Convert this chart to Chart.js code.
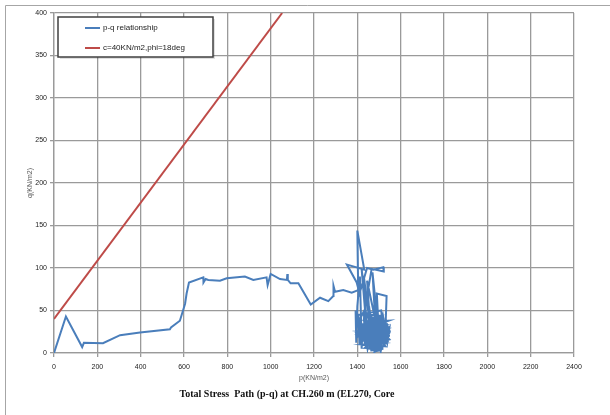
<!DOCTYPE html>
<html><head><meta charset="utf-8">
<script src="https://cdn.jsdelivr.net/npm/chart.js@4/dist/chart.umd.min.js"></script>
<style>html,body{margin:0;padding:0;background:#fff}#wrap{width:610px;height:415px;position:relative}</style>
</head><body><div id="wrap"><canvas id="c" width="610" height="415"></canvas></div>
<script>
const chartTitle = "Total Stress  Path (p-q) at CH.260 m (EL270, Core";
const xTitle = "p(KN/m2)";
const yTitle = "q(KN/m2)";
const seriesNames = ["p-q relationship", "c=40KN/m2,phi=18deg"];
const pathP = [0,55,130,138,226,305,397,535,540,581,605,612,623,689,690,700,712,766,797,881,920,981,986,1000,1043,1075,1077,1079,1092,1128,1185,1228,1266,1289,1290,1297,1335,1374,1404,
 1400,1432,1352,1397,1410,1445,1475,1520,1522,1466,1440,1420,1446,1430,1460,1445,1482,1470,1500,1490,1535,1528,1510,
 1405,1410,1415,1420,1425,1440,1430,1450,1445,1460,1455,1470,1465,1480,1475,1490,1485,1500,1495,1510,1505,1520,1515,1530,1540,1545,1535,1550,1525,1540,1510,1495,1480,1470,1455,1440,1425,1410,1402,1420,1435,1450,1465,1485,1500,1515,1530,1520,1505,1490,1475,1460,1448,1432,1418,1408,1428,1442,1458,1472,1488,1502,1518,1532,1548,1538,1522,1508,1492,1478,1462,1447,1436,1420,1392,1395,1400,1412,1418,
 1410,1545,1412,1540,1415,1535,1420,1545,1425,1530,1430,1525,1440,1515,1420,1550,1418,1542,1435,1520,1460,1500,1445,1530,1425,1538,1415,1528,1432,1548,1440,1512,1422,1536,1452,1506,1470,1495,1482,1505,1462,1528,1438,1544,1416,1530,1444,1520,1468];
const pathQ = [0,43,7,12,11.5,21,24,28,30,38,58,70,83,89,83,87,86,85,88,90,86,89,80,93,87,86,93,86,82,82,57,65,61,67,79,72,74,71,74,
 144,98,104,83,70,100,98,101,96,99,60,98,18,90,30,85,40,95,20,70,67,15,50,
 45,10,40,5,35,8,42,12,38,4,30,6,44,10,36,3,40,8,32,12,42,15,30,18,28,22,35,25,10,15,5,25,2,28,15,35,18,30,20,25,12,30,16,28,15,25,10,35,20,45,18,40,22,28,14,38,48,25,48,22,50,28,44,24,30,12,28,2,20,8,25,5,22,12,50,12,55,90,30,
 20,22,26,30,32,18,15,14,10,8,38,36,42,40,22,20,28,26,6,5,3,4,34,33,24,27,18,12,9,16,45,44,30,24,12,10,7,6,2,3,14,16,36,38,26,28,20,19,11];
const envP = [0, 1053];
const envQ = [40, 400];
const xTicks = {min:0, max:2400, step:200};
const yTicks = {min:0, max:400, step:50};

const toPts = (xs, ys) => xs.map((x,i)=>({x:x, y:ys[i]}));

const framePlugin = {
  id:'frame',
  beforeDraw(chart){
    const ctx = chart.ctx;
    ctx.save();
    ctx.fillStyle='#fff'; ctx.fillRect(0,0,chart.width,chart.height);
    ctx.strokeStyle='#a6a6a6'; ctx.lineWidth=1;
    ctx.beginPath(); ctx.moveTo(5.5,415); ctx.lineTo(5.5,5.5); ctx.lineTo(610,5.5); ctx.stroke();
    ctx.restore();
  }
};
const legendPlugin = {
  id:'boxLegend',
  afterDraw(chart){
    const ctx = chart.ctx;
    const a = chart.chartArea;
    const x0 = a.left+4, y0 = a.top+4, w = 155, h = 40;
    ctx.save();
    ctx.fillStyle='rgba(0,0,0,0.12)'; ctx.fillRect(x0+2,y0+2,w,h);
    ctx.fillStyle='#fff'; ctx.fillRect(x0,y0,w,h);
    ctx.strokeStyle='#404040'; ctx.lineWidth=1.5; ctx.strokeRect(x0,y0,w,h);
    ctx.font='8px "Liberation Sans", Arial, sans-serif';
    ctx.textBaseline='middle';
    chart.data.datasets.forEach((ds,i)=>{
      const yy = y0 + 11 + i*20;
      ctx.strokeStyle = ds.borderColor; ctx.lineWidth=2;
      ctx.beginPath(); ctx.moveTo(x0+27,yy); ctx.lineTo(x0+42,yy); ctx.stroke();
      ctx.fillStyle='#222'; ctx.fillText(ds.label, x0+45, yy);
    });
    ctx.restore();
  }
};

new Chart(document.getElementById('c'), {
  type:'line',
  data:{datasets:[
    {label:seriesNames[0], data:toPts(pathP,pathQ), borderColor:'#4a7ebb', borderWidth:2, pointRadius:0, tension:0, fill:false},
    {label:seriesNames[1], data:toPts(envP,envQ), borderColor:'#be4b48', borderWidth:2, pointRadius:0, tension:0, fill:false}
  ]},
  options:{
    responsive:false, animation:false, events:[],
    layout:{padding:{top:13,right:36,left:0,bottom:0}},
    plugins:{
      legend:{display:false}, tooltip:{enabled:false},
      title:{display:true, text:chartTitle, position:'bottom', color:'#111',
        font:{family:'"Liberation Serif", "Times New Roman", serif', size:10, weight:'bold'},
        padding:{top:0,bottom:15}}
    },
    scales:{
      x:{type:'linear', min:xTicks.min, max:xTicks.max,
        ticks:{stepSize:xTicks.step, color:'#222', padding:6, maxRotation:0,
          callback:(v)=>String(v),
          font:{family:'"Liberation Sans", Arial, sans-serif', size:7}},
        grid:{color:'#9a9a9a', lineWidth:1.3, tickLength:4},
        border:{color:'#9a9a9a', width:1.3},
        title:{display:true, text:xTitle, color:'#595959', padding:{top:0,bottom:6},
          font:{family:'"Liberation Sans", Arial, sans-serif', size:7}},
        afterFit(s){ s.height = 35; }
      },
      y:{type:'linear', min:yTicks.min, max:yTicks.max,
        ticks:{stepSize:yTicks.step, color:'#222', padding:3,
          callback:(v)=>String(v),
          font:{family:'"Liberation Sans", Arial, sans-serif', size:7}},
        grid:{color:'#9a9a9a', lineWidth:1.3, tickLength:4},
        border:{color:'#9a9a9a', width:1.3},
        title:{display:true, text:yTitle, color:'#595959', padding:{top:26,bottom:0},
          font:{family:'"Liberation Sans", Arial, sans-serif', size:7}},
        afterFit(s){ s.width = 54; }
      }
    }
  },
  plugins:[framePlugin, legendPlugin]
});
</script></body></html>
